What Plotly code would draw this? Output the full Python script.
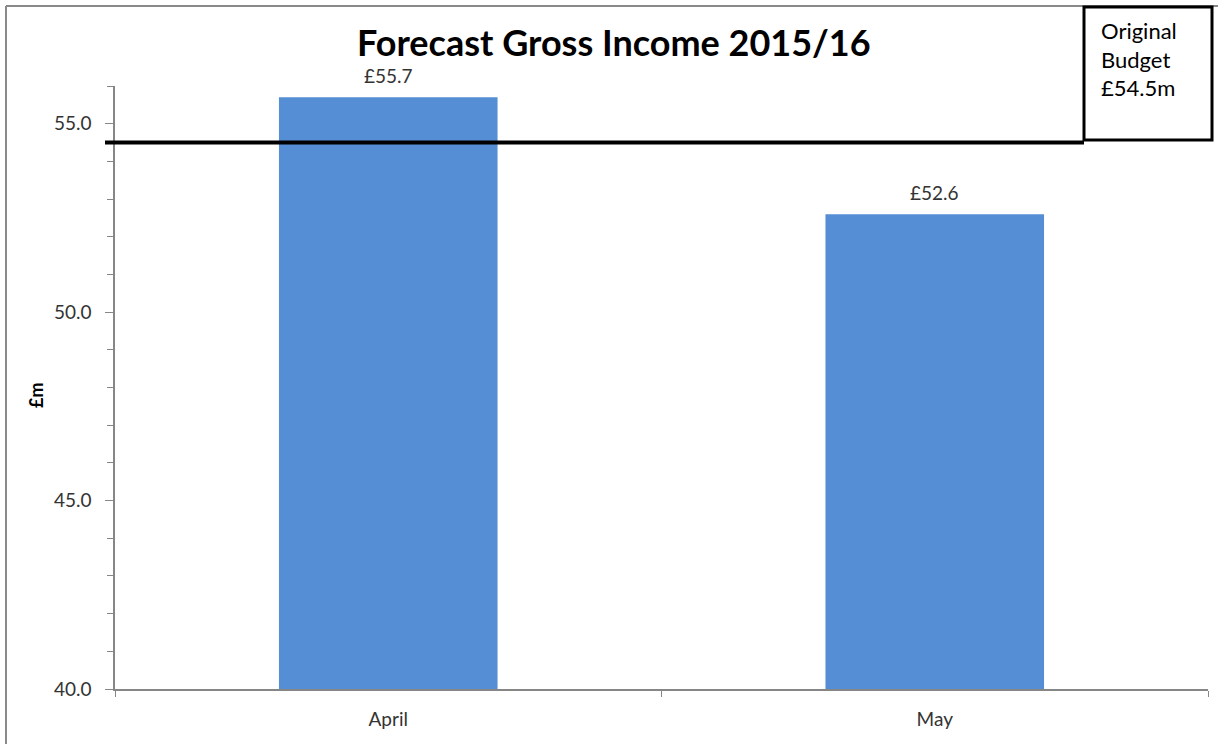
import plotly.graph_objects as go

# Forecast gross income by month (£m)
months = ["April", "May"]
income = [55.7, 52.6]
budget = 54.5
y_ticks = [40.0, 45.0, 50.0, 55.0]
y_tick_labels = ["40.0", "45.0", "50.0", "55.0"]

W, H = 1218, 744
ML, MR, MT, MB = 115, 10, 86, 55
PW, PH = W - ML - MR, H - MT - MB


def px_x(p):
    return (p - ML) / PW


def px_y(p):
    return (H - MB - p) / PH


FONT = "Lato"
GREY = "#868686"

fig = go.Figure()
fig.add_trace(go.Bar(
    x=months, y=income, width=0.4,
    marker=dict(color="#558ED5", line=dict(width=0)),
    hoverinfo="x+y",
))

annotations = []
for m, v in zip(months, income):
    annotations.append(dict(
        x=m, y=v, xref="x", yref="y", text=f"£{v:.1f}", showarrow=False,
        yanchor="bottom", yshift=8, font=dict(family=FONT, size=19, color="#333333"),
    ))

# title
annotations.append(dict(
    x=px_x(614), y=px_y(42), xref="paper", yref="paper",
    text="<b>Forecast Gross Income 2015/16</b>", showarrow=False,
    xanchor="center", yanchor="middle",
    font=dict(family=FONT, size=36, color="#000000"),
))
# y-axis title
annotations.append(dict(
    x=px_x(36), y=px_y(395), xref="paper", yref="paper",
    text="<b>£m</b>", showarrow=False, textangle=-90,
    xanchor="center", yanchor="middle",
    font=dict(family=FONT, size=18, color="#000000"),
))
# budget call-out box text
annotations.append(dict(
    x=px_x(1099), y=px_y(15), xref="paper", yref="paper",
    text="Original<br>Budget<br>£%.1fm" % budget, showarrow=False,
    xanchor="left", yanchor="top", align="left",
    font=dict(family=FONT, size=22, color="#000000"),
))

shapes = [
    # outer chart frame
    dict(type="line", xref="paper", yref="paper", x0=px_x(6), x1=px_x(6),
         y0=px_y(6), y1=px_y(760), line=dict(color="#8a8a8a", width=2)),
    dict(type="line", xref="paper", yref="paper", x0=px_x(6), x1=px_x(1230),
         y0=px_y(6), y1=px_y(6), line=dict(color="#8a8a8a", width=2)),
    # original budget line
    dict(type="line", xref="paper", yref="y", x0=px_x(105), x1=px_x(1084),
         y0=budget, y1=budget, line=dict(color="#000000", width=4)),
    # call-out box
    dict(type="rect", xref="paper", yref="paper", x0=px_x(1084), x1=px_x(1212),
         y0=px_y(140), y1=px_y(7), fillcolor="#ffffff",
         line=dict(color="#000000", width=3)),
]

fig.update_layout(
    width=W, height=H,
    margin=dict(l=ML, r=MR, t=MT, b=MB, pad=0),
    paper_bgcolor="#ffffff", plot_bgcolor="#ffffff",
    showlegend=False,
    annotations=annotations,
    shapes=shapes,
    font=dict(family=FONT, size=19, color="#333333"),
)
fig.update_xaxes(
    showgrid=False, zeroline=False,
    showline=True, linecolor=GREY, linewidth=1.5,
    ticks="outside", tickson="boundaries", ticklen=6, tickcolor=GREY,
    tickfont=dict(family=FONT, size=19, color="#333333"),
    ticklabelstandoff=12,
)
fig.update_yaxes(
    range=[40, 56], showgrid=False, zeroline=False,
    showline=True, linecolor=GREY, linewidth=1.5,
    tickvals=y_ticks, ticktext=y_tick_labels,
    ticks="outside", ticklen=8, tickcolor=GREY,
    minor=dict(dtick=1, ticks="outside", ticklen=6, tickcolor=GREY, showgrid=False),
    tickfont=dict(family=FONT, size=19, color="#333333"),
    ticklabelstandoff=10,
)

fig.write_html("out.html")
